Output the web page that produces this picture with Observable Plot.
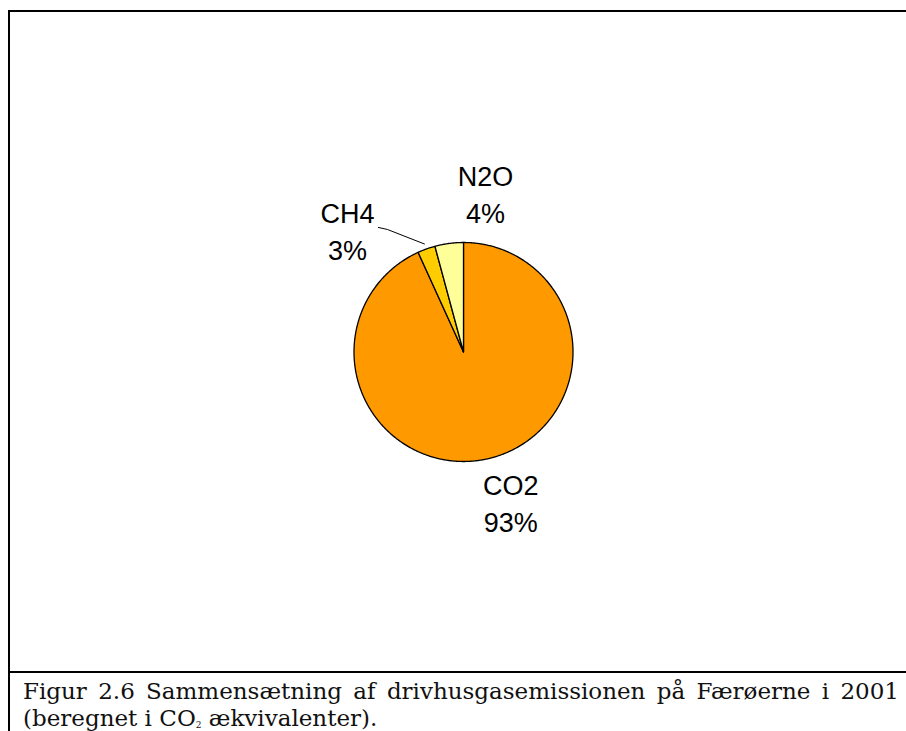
<!DOCTYPE html>
<html>
<head>
<meta charset="utf-8">
<script src="https://cdn.jsdelivr.net/npm/d3@7"></script>
<script src="https://cdn.jsdelivr.net/npm/@observablehq/plot@0.6"></script>
<style>
  html, body { margin: 0; padding: 0; background: #fff; }
  #wrap { position: relative; width: 906px; height: 731px; overflow: hidden; }
  #frame { position: absolute; left: 8px; top: 10px; width: 910px; height: 740px;
           border-left: 2px solid #000; border-top: 2px solid #000; box-sizing: border-box; }
  #capline { position: absolute; left: 8px; top: 671px; width: 900px; height: 2px; background: #000; }
  #chart { position: absolute; left: 0; top: 0; }
  .cap { position: absolute; left: 23px; width: 876px; font-family: "DejaVu Serif", "Liberation Serif", serif;
         font-size: 23px; line-height: 27px; color: #111; white-space: nowrap; }
  #cap1 { top: 678px; text-align: justify; text-align-last: justify; white-space: normal; }
  #cap2 { top: 705px; }
  sub { font-size: 9px; vertical-align: -2px; line-height: 0; }
</style>
</head>
<body>
<div id="wrap">
  <div id="frame"></div>
  <div id="chart"></div>
  <div id="capline"></div>
  <div class="cap" id="cap1">Figur 2.6 Sammensætning af drivhusgasemissionen på Færøerne i 2001</div>
  <div class="cap" id="cap2">(beregnet i CO<sub>2</sub> ækvivalenter).</div>
</div>
<script>
// ---- data ----
const categories = ["CO2", "CH4", "N2O"];
const shares = [93.2, 2.6, 4.2];
const colors = ["#FF9900", "#FFCC00", "#FFFF99"];

// ---- layout constants ----
const CX = 463, CY = 351.5, R = 109.5;
const total = d3.sum(shares);

// slices as closed polygons in unit-circle data space (clockwise from 12 o'clock)
const slicePts = [];
const mids = {};
let acc = 0;
categories.forEach((name, i) => {
  const a0 = acc / total * 2 * Math.PI;
  acc += shares[i];
  const a1 = acc / total * 2 * Math.PI;
  slicePts.push({name, x: 0, y: 0});
  const n = Math.max(2, Math.ceil((a1 - a0) / (Math.PI / 360)));
  for (let k = 0; k <= n; k++) {
    const t = a0 + (a1 - a0) * k / n;
    slicePts.push({name, x: Math.sin(t), y: Math.cos(t)});
  }
  const am = (a0 + a1) / 2;
  mids[name] = {name, x: Math.sin(am), y: Math.cos(am), text: name + "\n" + Math.round(shares[i]) + "%"};
});

// label pixel offsets from the rim point at each slice's mid-angle
const labelOffsets = {CO2: [24, 43], CH4: [-79, -19.5], N2O: [36.4, -51]};

// leader line for CH4 (pixel offsets from rim mid point)
const m = mids["CH4"];
const leader = [[-2, -5], [-39, -19.5], [-48, -21.5]].map(([ox, oy]) => ({x: m.x + ox / R, y: m.y - oy / R}));

const textMarks = categories.map(name => Plot.text([mids[name]], {
  x: "x", y: "y", text: "text",
  dx: labelOffsets[name][0], dy: labelOffsets[name][1],
  fontSize: 27, lineHeight: 1.37, fill: "#000", textAnchor: "middle",
  fontFamily: "Liberation Sans, Arial, sans-serif"
}));

const chart = Plot.plot({
  width: 906,
  height: 672,
  margin: 0,
  x: {domain: [-1, 1], range: [CX - R, CX + R], axis: null},
  y: {domain: [-1, 1], range: [CY + R, CY - R], axis: null},
  color: {domain: categories, range: colors},
  style: {background: "transparent", overflow: "visible"},
  marks: [
    Plot.line(slicePts, {x: "x", y: "y", z: "name", fill: "name", stroke: "#000", strokeWidth: 1.3, curve: "linear-closed", strokeLinejoin: "round"}),
    Plot.line(leader, {x: "x", y: "y", stroke: "#000", strokeWidth: 1}),
    ...textMarks
  ]
});
document.getElementById("chart").appendChild(chart);
</script>
</body>
</html>
